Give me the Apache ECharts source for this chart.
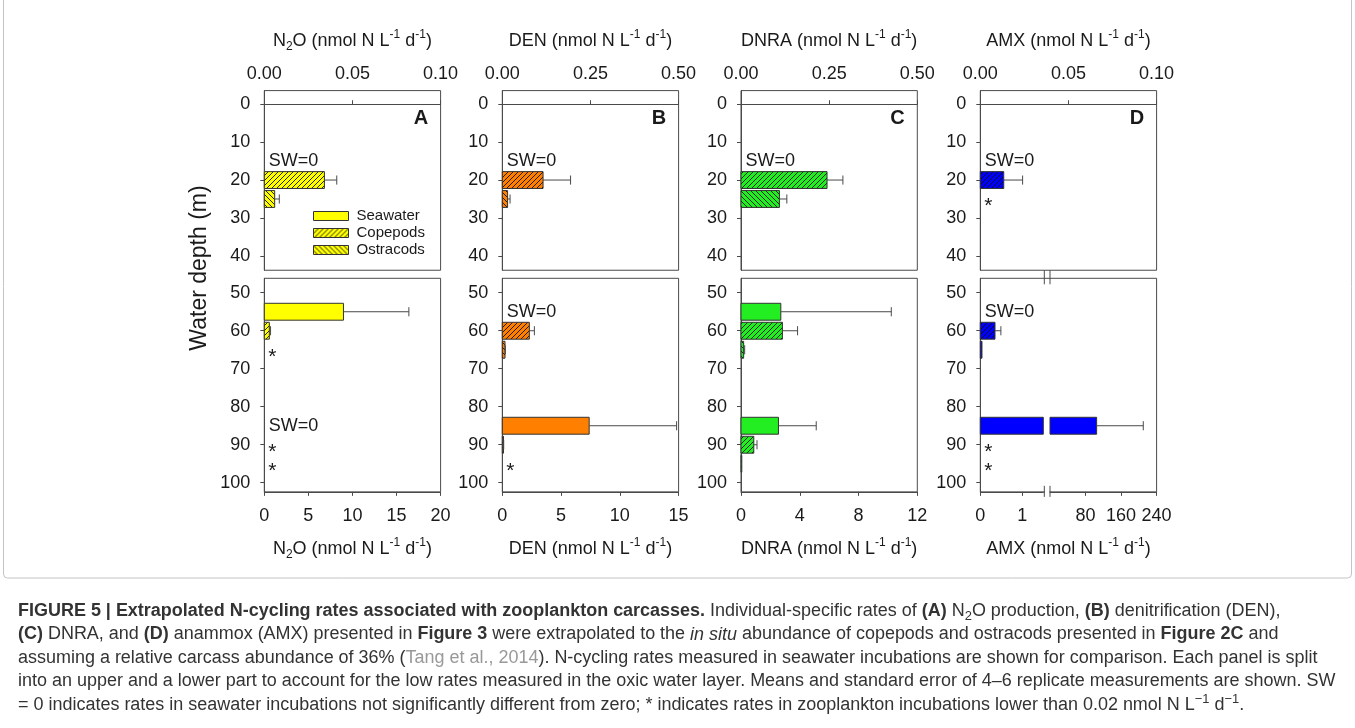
<!DOCTYPE html>
<html>
<head>
<meta charset="utf-8">
<title>Figure 5 - extrapolated N-cycling rates</title>
<script src="https://cdn.jsdelivr.net/npm/echarts@6.0.0/dist/echarts.min.js"></script>
<style>
html, body { margin: 0; padding: 0; background: #fff; }
#main { width: 1355px; height: 728px; }
</style>
</head>
<body>
<div id="main"></div>
<script>
// depth (m) of each incubation type, three groups: oxic layer, ~60 m, ~90 m
var depthSeawater = [15, 55, 85];
var depthCopepods = [20, 60, 90];
var depthOstracods = [25, 65, 95];

// rates (nmol N L-1 d-1). first value is read on the top axis, others on the bottom axis
// seawater 0 -> "SW=0", null -> "*" (lower than 0.02)
var n2oSeawater = [0, 8.98, 0];
var n2oSeawaterErr = [0, 7.42, 0];
var n2oCopepods = [0.0341, 0.57, null];
var n2oCopepodsErr = [0.0070, 0.14, null];
var n2oOstracods = [0.0059, null, null];
var n2oOstracodsErr = [0.0026, null, null];

var denSeawater = [0, 0, 7.39];
var denSeawaterErr = [0, 0, 7.44];
var denCopepods = [0.1156, 2.30, 0.10];
var denCopepodsErr = [0.078, 0.43, 0.02];
var denOstracods = [0.015, 0.23, null];
var denOstracodsErr = [0.007, 0.03, null];

var dnraSeawater = [0, 2.71, 2.55];
var dnraSeawaterErr = [0, 7.52, 2.57];
var dnraCopepods = [0.244, 2.82, 0.87];
var dnraCopepodsErr = [0.045, 1.03, 0.22];
var dnraOstracods = [0.109, 0.18, 0.03];
var dnraOstracodsErr = [0.021, 0.07, 0];

var amxSeawater = [0, 0, 105];
var amxSeawaterErr = [0, 0, 105];
var amxCopepods = [0.0133, 0.35, null];
var amxCopepodsErr = [0.0107, 0.14, null];
var amxOstracods = [null, 0.04, null];
var amxOstracodsErr = [null, 0, null];

// axes
var depthTicksUpper = [0, 10, 20, 30, 40];
var depthTicksLower = [50, 60, 70, 80, 90, 100];
var topAxisMax = [0.10, 0.50, 0.50, 0.10];
var topAxisStep = [0.05, 0.25, 0.25, 0.05];
var bottomAxisMax = [20, 15, 12, 1];
var bottomAxisStep = [5, 5, 4, 1];
var amxLeftMax = 1.5;
var amxLeftTicks = [0, 1];
var amxRightMax = 240;
var amxRightTicks = [80, 160, 240];

var typeNames = ['Seawater', 'Copepods', 'Ostracods'];
var panelLetters = ['A', 'B', 'C', 'D'];
var panelColors = ['#FFFF00', '#FF8000', '#22EE22', '#0000FF'];
var axisTitles = [
    '{a|N}{b|2}{a|O (nmol N L}{s|-1}{a| d}{s|-1}{a|)}',
    '{a|DEN (nmol N L}{s|-1}{a| d}{s|-1}{a|)}',
    '{a|DNRA (nmol N L}{s|-1}{a| d}{s|-1}{a|)}',
    '{a|AMX (nmol N L}{s|-1}{a| d}{s|-1}{a|)}'
];

var captionLines = [
    '{b|FIGURE 5 | Extrapolated N-cycling rates associated with zooplankton carcasses.}{n| Individual-specific rates of }{b|(A)}{n| N}{sub|2}{n|O production, }{b|(B)}{n| denitrification (DEN),}',
    '{b|(C)}{n| DNRA, and }{b|(D)}{n| anammox (AMX) presented in }{b|Figure 3}{n| were extrapolated to the }{i|in situ}{n| abundance of copepods and ostracods presented in }{b|Figure 2C}{n| and}',
    '{n|assuming a relative carcass abundance of 36% (}{g|Tang et al., 2014}{n|). N-cycling rates measured in seawater incubations are shown for comparison. Each panel is split}',
    '{n|into an upper and a lower part to account for the low rates measured in the oxic water layer. Means and standard error of 4\u20136 replicate measurements are shown. SW}',
    '{n|= 0 indicates rates in seawater incubations not significantly different from zero; * indicates rates in zooplankton incubations lower than 0.02 nmol N L}{sup|\u22121}{n| d}{sup|\u22121}{n|.}'
];

var FONT = 'Liberation Sans, Arial, sans-serif';
var INK = '#1a1a1a';
var LINE = '#4a4a4a';

// layout (px)
var PANEL_LEFT = [264.3, 502.3, 741, 980.3];
var PANEL_W = 176.3;
var UP_TOP = 90.6, UP_MIN = -3.6, UP_MAX = 43.8, UP_PX = 3.79;
var LO_TOP = 278.3, LO_MIN = 46.2, LO_MAX = 102.4, LO_PX = 3.8;
var AMX_LEFT_W = 63, AMX_RIGHT_X = 1050;
var BAR_DEPTH = 4.45;

function hatch(color, dir) {
    var s = 5;
    var c = document.createElement('canvas');
    c.width = s; c.height = s;
    var g = c.getContext('2d');
    g.fillStyle = color;
    g.fillRect(0, 0, s, s);
    g.strokeStyle = '#111';
    g.lineWidth = 0.9;
    g.beginPath();
    if (dir > 0) {
        g.moveTo(-1, s + 1); g.lineTo(s + 1, -1);
        g.moveTo(-1, 1); g.lineTo(1, -1);
        g.moveTo(s - 1, s + 1); g.lineTo(s + 1, s - 1);
    } else {
        g.moveTo(-1, -1); g.lineTo(s + 1, s + 1);
        g.moveTo(s - 1, -1); g.lineTo(s + 1, 1);
        g.moveTo(-1, s - 1); g.lineTo(1, s + 1);
    }
    g.stroke();
    return {image: c, repeat: 'repeat'};
}

var fills = panelColors.map(function (c) {
    return [c, hatch(c, 1), hatch(c, -1)];
});

function barRenderer(fill, xMax) {
    return function (params, api) {
        var v = api.value(0), d = api.value(1), e = api.value(2);
        var h = api.size([0, BAR_DEPTH])[1];
        var p0 = api.coord([0, d]);
        var p1 = api.coord([Math.min(v, xMax), d]);
        var kids = [{
            type: 'rect',
            shape: {x: p0[0], y: p0[1] - h / 2, width: Math.max(p1[0] - p0[0], 0.8), height: h},
            style: {fill: fill, stroke: '#333', lineWidth: 1}
        }];
        if (e > 0 && v < xMax && v + e <= xMax * 1.001) {
            var p2 = api.coord([v + e, d]);
            kids.push({type: 'line', shape: {x1: p1[0], y1: p1[1], x2: p2[0], y2: p2[1]},
                style: {stroke: LINE, lineWidth: 1}});
            kids.push({type: 'line', shape: {x1: p2[0], y1: p2[1] - h * 0.27, x2: p2[0], y2: p2[1] + h * 0.27},
                style: {stroke: LINE, lineWidth: 1}});
        }
        return {type: 'group', children: kids};
    };
}

function noteRenderer(params, api) {
    var d = api.value(0), k = api.value(1);
    var p = api.coord([0, d]);
    return {
        type: 'text',
        x: p[0] + (k ? 4 : 4.5),
        y: p[1] + (k ? 7 : 0),
        style: {text: k ? '*' : 'SW=0', fontSize: k ? 21 : 18, fontFamily: FONT, fill: INK, verticalAlign: 'middle'}
    };
}

var grids = [], xAxes = [], yAxes = [], series = [];
var nameRich = {
    a: {fontSize: 18, lineHeight: 24, color: INK, fontFamily: FONT},
    b: {fontSize: 12, lineHeight: 14, verticalAlign: 'bottom', color: INK, fontFamily: FONT},
    s: {fontSize: 12, lineHeight: 14, verticalAlign: 'top', color: INK, fontFamily: FONT}
};

function addGrid(left, top, width, height, border) {
    grids.push({left: left, top: top, width: width, height: height, show: border,
        borderColor: LINE, borderWidth: 1, backgroundColor: 'transparent', outerBoundsMode: 'none'});
}
function depthAxis(upper, show) {
    var ticks = upper ? depthTicksUpper : depthTicksLower;
    return {
        type: 'value', inverse: true, show: show,
        min: upper ? UP_MIN : LO_MIN, max: upper ? UP_MAX : LO_MAX,
        gridIndex: grids.length - 1,
        splitLine: {show: false},
        axisLine: {show: true, lineStyle: {color: LINE}},
        axisTick: {show: true, length: 4, lineStyle: {color: LINE}, customValues: ticks},
        axisLabel: {customValues: ticks, margin: 14, fontSize: 18, color: INK, fontFamily: FONT}
    };
}
function rateAxis(pos, max, step, title, custom, marks) {
    var ax = {
        type: 'value', position: pos, min: 0, max: max,
        gridIndex: grids.length - 1,
        splitLine: {show: false},
        axisLine: {show: marks, lineStyle: {color: LINE}},
        axisTick: {show: marks, length: 4, lineStyle: {color: LINE}},
        axisLabel: {
            show: marks,
            margin: pos === 'top' ? 8 : 15, fontSize: 18, color: INK, fontFamily: FONT,
            formatter: pos === 'top' ? function (v) { return v.toFixed(2); } : function (v) { return String(v); }
        }
    };
    if (step) ax.interval = step;
    if (custom) {
        ax.axisTick.customValues = custom;
        ax.axisLabel.customValues = custom;
    }
    if (title) {
        ax.name = title;
        ax.nameLocation = 'middle';
        ax.nameGap = pos === 'top' ? 38 : 45;
        ax.nameTextStyle = {rich: nameRich};
    }
    return ax;
}

for (var p = 0; p < 4; p++) {
    addGrid(PANEL_LEFT[p], UP_TOP, PANEL_W, (UP_MAX - UP_MIN) * UP_PX, true);
    xAxes.push(rateAxis('top', topAxisMax[p], topAxisStep[p], axisTitles[p], null, true));
    yAxes.push(depthAxis(true, true));
    addGrid(PANEL_LEFT[p], LO_TOP, PANEL_W, (LO_MAX - LO_MIN) * LO_PX, true);
    // panel D: this axis only carries the title, its scale is split below
    xAxes.push(rateAxis('bottom', bottomAxisMax[p], bottomAxisStep[p], axisTitles[p], null, p < 3));
    yAxes.push(depthAxis(false, true));
}
// broken bottom axis of panel D
addGrid(PANEL_LEFT[3], LO_TOP, AMX_LEFT_W, (LO_MAX - LO_MIN) * LO_PX, false);
xAxes.push(rateAxis('bottom', amxLeftMax, null, null, amxLeftTicks, true));
yAxes.push(depthAxis(false, false));
addGrid(AMX_RIGHT_X, LO_TOP, PANEL_LEFT[3] + PANEL_W - AMX_RIGHT_X, (LO_MAX - LO_MIN) * LO_PX, false);
xAxes.push(rateAxis('bottom', amxRightMax, null, null, amxRightTicks, true));
yAxes.push(depthAxis(false, false));

var panelSets = [
    [[n2oSeawater, n2oSeawaterErr], [n2oCopepods, n2oCopepodsErr], [n2oOstracods, n2oOstracodsErr]],
    [[denSeawater, denSeawaterErr], [denCopepods, denCopepodsErr], [denOstracods, denOstracodsErr]],
    [[dnraSeawater, dnraSeawaterErr], [dnraCopepods, dnraCopepodsErr], [dnraOstracods, dnraOstracodsErr]],
    [[amxSeawater, amxSeawaterErr], [amxCopepods, amxCopepodsErr], [amxOstracods, amxOstracodsErr]]
];
var typeDepths = [depthSeawater, depthCopepods, depthOstracods];

function targets(p, i) {
    if (i === 0) return [{grid: 2 * p, max: topAxisMax[p]}];
    if (p < 3) return [{grid: 2 * p + 1, max: bottomAxisMax[p]}];
    return [{grid: 8, max: amxLeftMax}, {grid: 9, max: amxRightMax, above: amxLeftMax}];
}

var bars = {}, notes = {};
panelSets.forEach(function (sets, p) {
    sets.forEach(function (set, t) {
        for (var i = 0; i < 3; i++) {
            var v = set[0][i], e = set[1][i], d = typeDepths[t][i];
            var tg = targets(p, i);
            if (v === null || v === 0) {
                (notes[tg[0].grid] = notes[tg[0].grid] || []).push([d, v === null ? 1 : 0]);
                continue;
            }
            tg.forEach(function (g) {
                if (g.above !== undefined && v <= g.above) return;
                var key = g.grid + '_' + t;
                if (!bars[key]) bars[key] = {grid: g.grid, t: t, p: p, max: g.max, data: []};
                bars[key].data.push([v, d, e || 0]);
            });
        }
    });
});

Object.keys(bars).forEach(function (key) {
    var b = bars[key];
    series.push({
        type: 'custom', name: typeNames[b.t], silent: true,
        xAxisIndex: b.grid, yAxisIndex: b.grid,
        itemStyle: {color: panelColors[b.p]},
        renderItem: barRenderer(fills[b.p][b.t], b.max),
        encode: {x: 0, y: 1},
        data: b.data
    });
});
Object.keys(notes).forEach(function (g) {
    series.push({
        type: 'custom', silent: true, z: 5,
        xAxisIndex: +g, yAxisIndex: +g,
        renderItem: noteRenderer,
        encode: {y: 0},
        data: notes[g]
    });
});

// caption font: narrow face if installed, size fitted to the original line width
var mctx = document.createElement('canvas').getContext('2d');
function fontWidth(f, txt) { mctx.font = '100px ' + f; return mctx.measureText(txt).width; }
var probe = 'abcdefghijklmnopqrstuvwxyz ABCDEFGHIJ';
var capFont = fontWidth('"Liberation Sans Narrow", monospace', probe) !== fontWidth('monospace', probe)
    ? 'Liberation Sans Narrow' : 'Liberation Sans';
var line4 = 'into an upper and a lower part to account for the low rates measured in the oxic water layer. Means and standard error of 4\u20136 replicate measurements are shown. SW';
var capSize = Math.min(18, 100 * 1318 / fontWidth('"' + capFont + '"', line4));
var capRich = {
    n: {fontSize: capSize, fontFamily: capFont, fill: '#333', lineHeight: capSize * 1.3},
    b: {fontSize: capSize, fontFamily: capFont, fill: '#333', fontWeight: 'bold', lineHeight: capSize * 1.3},
    i: {fontSize: capSize, fontFamily: capFont, fill: '#333', fontStyle: 'italic', lineHeight: capSize * 1.3},
    g: {fontSize: capSize, fontFamily: capFont, fill: '#999', lineHeight: capSize * 1.3},
    sub: {fontSize: capSize * 0.72, fontFamily: capFont, fill: '#333', verticalAlign: 'bottom', lineHeight: capSize * 0.9},
    sup: {fontSize: capSize * 0.72, fontFamily: capFont, fill: '#333', verticalAlign: 'top', lineHeight: capSize * 0.9}
};

var graphics = [{
    type: 'rect', z: 0, silent: true,
    shape: {x: 3.5, y: -10, width: 1348, height: 588, r: 4},
    style: {fill: 'none', stroke: '#c4c4c4', lineWidth: 1}
}, {
    type: 'text', z: 100, silent: true, x: 200, y: 268, rotation: Math.PI / 2,
    style: {text: 'Water depth (m)', fontSize: 23, fontFamily: FONT, fill: INK, align: 'center', verticalAlign: 'middle'}
}];
panelLetters.forEach(function (L, p) {
    graphics.push({
        type: 'text', z: 100, silent: true, x: PANEL_LEFT[p] + PANEL_W - 12.5, y: 118,
        style: {text: L, fontSize: 20, fontWeight: 'bold', fontFamily: FONT, fill: INK, align: 'right', verticalAlign: 'middle'}
    });
});
// axis break marks of panel D
var bx1 = PANEL_LEFT[3] + AMX_LEFT_W + 1, bx2 = AMX_RIGHT_X;
var loBottom = LO_TOP + (LO_MAX - LO_MIN) * LO_PX;
var upBottom = UP_TOP + (UP_MAX - UP_MIN) * UP_PX;
graphics.push({type: 'rect', z: 100, silent: true, shape: {x: bx1 + 0.6, y: loBottom - 3, width: bx2 - bx1 - 1.2, height: 6}, style: {fill: '#fff'}});
[bx1, bx2].forEach(function (x) {
    graphics.push({type: 'line', z: 101, silent: true, shape: {x1: x, y1: upBottom, x2: x, y2: LO_TOP + 6}, style: {stroke: LINE, lineWidth: 1}});
    graphics.push({type: 'line', z: 101, silent: true, shape: {x1: x, y1: loBottom - 6, x2: x, y2: loBottom + 5}, style: {stroke: LINE, lineWidth: 1}});
});
captionLines.forEach(function (txt, k) {
    graphics.push({
        type: 'text', z: 100, silent: true, x: 18, y: 611 + k * 23.5,
        style: {text: txt, rich: capRich, fontSize: capSize, fontFamily: capFont, fill: '#333', verticalAlign: 'middle'}
    });
});

var myChart = echarts.init(document.getElementById('main'));
myChart.setOption({
    animation: false,
    textStyle: {fontFamily: FONT},
    grid: grids,
    xAxis: xAxes,
    yAxis: yAxes,
    legend: {
        orient: 'vertical', left: 313, top: 208.5, padding: 0, itemWidth: 35, itemHeight: 9, itemGap: 2,
        selectedMode: false,
        textStyle: {fontSize: 15, color: INK, fontFamily: FONT, padding: [0, 0, 0, 3]},
        data: typeNames.map(function (n, t) {
            return {name: n, icon: 'rect', itemStyle: {color: fills[0][t], borderColor: '#333', borderWidth: 1}};
        })
    },
    series: series,
    graphic: graphics
});
</script>
</body>
</html>
